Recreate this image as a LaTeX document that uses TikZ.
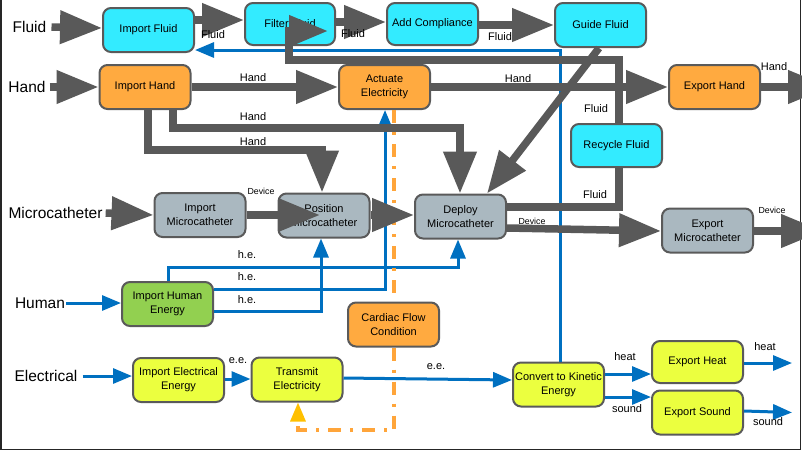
\documentclass[tikz,border=0pt]{standalone}
\usepackage{fontspec}
\setmainfont{Liberation Sans}
\usetikzlibrary{arrows.meta,calc}
\definecolor{cyanF}{HTML}{33EBFF}
\definecolor{orF}{HTML}{FFAA40}
\definecolor{grF}{HTML}{AAB8C0}
\definecolor{gnF}{HTML}{92D050}
\definecolor{yeF}{HTML}{EBFF3F}
\definecolor{bord}{HTML}{5A5A5A}
\definecolor{garr}{HTML}{595959}
\definecolor{bl}{HTML}{0070C0}
\definecolor{orl}{HTML}{FFA53A}
\definecolor{gold}{HTML}{FFC000}
\definecolor{frameC}{HTML}{262626}
\tikzset{
 fn/.style={draw=bord, line width=2pt, rounded corners=8pt, minimum width=91pt, minimum height=44pt, align=center, font=\fontsize{11}{14}\selectfont, inner sep=1pt},
 cy/.style={fn, fill=cyanF},
 orn/.style={fn, fill=orF},
 gyn/.style={fn, fill=grF},
 gnn/.style={fn, fill=gnF},
 yen/.style={fn, fill=yeF},
 garrow/.style={draw=garr, line width=7.5pt, -{Triangle[length=42pt,width=32pt]}},
 gline/.style={draw=garr, line width=7.5pt},
 barrow/.style={draw=bl, line width=3pt, -{Triangle[length=19pt,width=15pt]}},
 odash/.style={draw=orl, line width=3.3pt, dash pattern=on 13pt off 9pt on 3pt off 9pt},
 elab/.style={font=\fontsize{11}{12}\selectfont, inner sep=0pt},
 slab/.style={font=\fontsize{8.8}{10}\selectfont, inner sep=0pt},
 side/.style={font=\fontsize{15.5}{17}\selectfont, inner sep=0pt},
}
\begin{document}
\begin{tikzpicture}[x=1pt,y=-1pt]
\useasboundingbox (0,0) rectangle (802,451);
\draw[line width=1.5pt, frameC] (1,0) -- (1,449.5) -- (800.5,449.5) -- (800.5,0);

% side labels
\node[side] (fluidL) at (29.5,27) {Fluid};
\node[side] (handL) at (27,87) {Hand};
\node[side] (microL) at (55.5,213) {Microcatheter};
\node[side] (humanL) at (40,303) {Human};
\node[side] (elecL) at (46,376) {Electrical};

% nodes
\node[cy] (impF) at (148.5,30) {Import Fluid};
\node[cy, minimum height=42pt, minimum width=90pt] (filF) at (290,24) {Filter Fluid};
\node[cy, minimum height=42pt] (addC) at (432.5,24) {Add Compliance};
\node[cy] (guiF) at (600.5,25) {Guide Fluid};
\node[orn] (impH) at (145,87) {Import Hand};
\node[orn] (actE) at (384.5,87) {Actuate\\Electricity};
\node[orn] (expH) at (714.5,87) {Export Hand};
\node[cy, minimum height=43pt] (recF) at (616.5,145.5) {Recycle Fluid};
\node[gyn] (impM) at (200,215) {Import\\Microcatheter};
\node[gyn] (posM) at (324,215.5) {Position\\Microcatheter};
\node[gyn] (depM) at (460.5,216.5) {Deploy\\Microcatheter};
\node[gyn] (expM) at (707.5,230.5) {Export\\Microcatheter};
\node[gnn] (impHE) at (167.5,304) {Import Human\\Energy};
\node[orn] (cfc) at (393.5,324.5) {Cardiac Flow\\Condition};
\node[yen] (impEE) at (178.5,380) {Import Electrical\\Energy};
\node[yen] (traE) at (297,379.5) {Transmit\\Electricity};
\node[yen] (cke) at (558.5,384.5) {Convert to Kinetic\\Energy};
\node[yen, minimum height=42pt] (expHt) at (697.5,362) {Export Heat};
\node[yen] (expS) at (697.5,412.5) {Export Sound};

% free ends
\coordinate (outH) at (830,87);
\coordinate (outM) at (823,231);
\coordinate (outHt) at (792,363);
\coordinate (outS) at (792,412.5);
\coordinate (posIn) at (320,215);
\coordinate (filIn) at (328,31);

% blue connectors
\draw[barrow] ([xshift=1pt]humanL.east) -- (impHE.west |- 0,303);
\draw[barrow] ([xshift=5pt]elecL.east) -- (impEE.west |- 0,376);
\draw[barrow] (impEE.east |- 0,379) -- (traE.west |- 0,379);
\draw[barrow] (traE.east |- 0,378) -- (cke.west |- 0,380);
\draw[barrow] (impHE.north -| 168,0) |- (458,267) -- (depM.south -| 458,0);
\draw[barrow] (impHE.east |- 0,289) -| (actE.south -| 385,0);
\draw[barrow] (impHE.east |- 0,311) -| (posM.south -| 321,0);
\draw[barrow] (cke.north -| 560,0) |- (impF.east |- 0,50);
\draw[barrow] (cke.east |- 0,374) -- (expHt.west |- 0,374);
\draw[barrow] (cke.east |- 0,397) -- (expS.west |- 0,397);
\draw[barrow] (expHt.east |- 0,363) -- (outHt);
\draw[barrow] (expS.east |- 0,411) -- (outS);

% orange dash-dot
\draw[odash] (actE.south -| 394,0) -- (cfc.north -| 394,0);
\draw[odash, -{Triangle[length=19pt,width=15pt,color=gold]}] (cfc.south -| 394,0) |- (298,430) -- (traE.south -| 298,0);

% gray connectors
\draw[garrow] ([xshift=5pt]fluidL.east) -- (impF.west |- 0,28);
\draw[garrow] (impF.east |- 0,20) -- (filF.west |- 0,20);
\draw[garrow] (filF.east |- 0,22) -- (addC.west |- 0,22);
\draw[garrow] (addC.east |- 0,25) -- (guiF.west |- 0,25);
\draw[garrow] (guiF.south -| 599,0) -- (depM.north -| 487,0);
\draw[garrow, -{Triangle[length=39pt,width=30pt]}] (recF.north -| 619,0) |- (289,60) |- (filIn);
\draw[gline] (depM.east |- 0,207) -| (recF.south -| 619,0);
\draw[garrow] ([xshift=4pt]handL.east) -- (impH.west |- 0,87);
\draw[garrow] (impH.east |- 0,87) -- (actE.west |- 0,87);
\draw[garrow] (actE.east |- 0,87) -- (expH.west |- 0,87);
\draw[garrow] (expH.east |- 0,87) -- (outH);
\draw[garrow] (impH.south -| 173,0) |- (460,128) -- (depM.north -| 460,0);
\draw[garrow] (impH.south -| 148,0) |- (322,150) -- (posM.north -| 322,0);
\draw[garrow] ([xshift=3pt]microL.east) -- (impM.west |- 0,215);
\draw[garrow] (impM.east |- 0,215) -- (posIn);
\draw[garrow] (posM.east |- 0,215) -- (depM.west |- 0,215);
\draw[garrow] (depM.east |- 0,228) -- (expM.west |- 0,231);
\draw[garrow] (expM.east |- 0,231) -- (outM);

% edge labels
\node[elab] (lf1) at (213,35) {Fluid};
\node[elab] (lf2) at (353,34) {Fluid};
\node[elab] (lf3) at (500,37) {Fluid};
\node[elab] (lf4) at (596,109) {Fluid};
\node[elab] (lf5) at (595,195) {Fluid};
\node[elab] (lh1) at (253,78) {Hand};
\node[elab] (lh2) at (253,117) {Hand};
\node[elab] (lh3) at (253,142) {Hand};
\node[elab] (lh4) at (518,79) {Hand};
\node[elab] (lh5) at (774,67) {Hand};
\node[slab] (ld1) at (261,191) {Device};
\node[slab] (ld2) at (532,221) {Device};
\node[slab] (ld3) at (772,210) {Device};
\node[elab] (le1) at (247,255) {h.e.};
\node[elab] (le2) at (247,277) {h.e.};
\node[elab] (le3) at (247,300) {h.e.};
\node[elab] (le4) at (238,361) {e.e.};
\node[elab] (le5) at (436,367) {e.e.};
\node[elab] (lht1) at (625,357) {heat};
\node[elab] (ls1) at (627,409) {sound};
\node[elab] (lht2) at (765,347) {heat};
\node[elab] (ls2) at (768,422) {sound};
\end{tikzpicture}
\end{document}
